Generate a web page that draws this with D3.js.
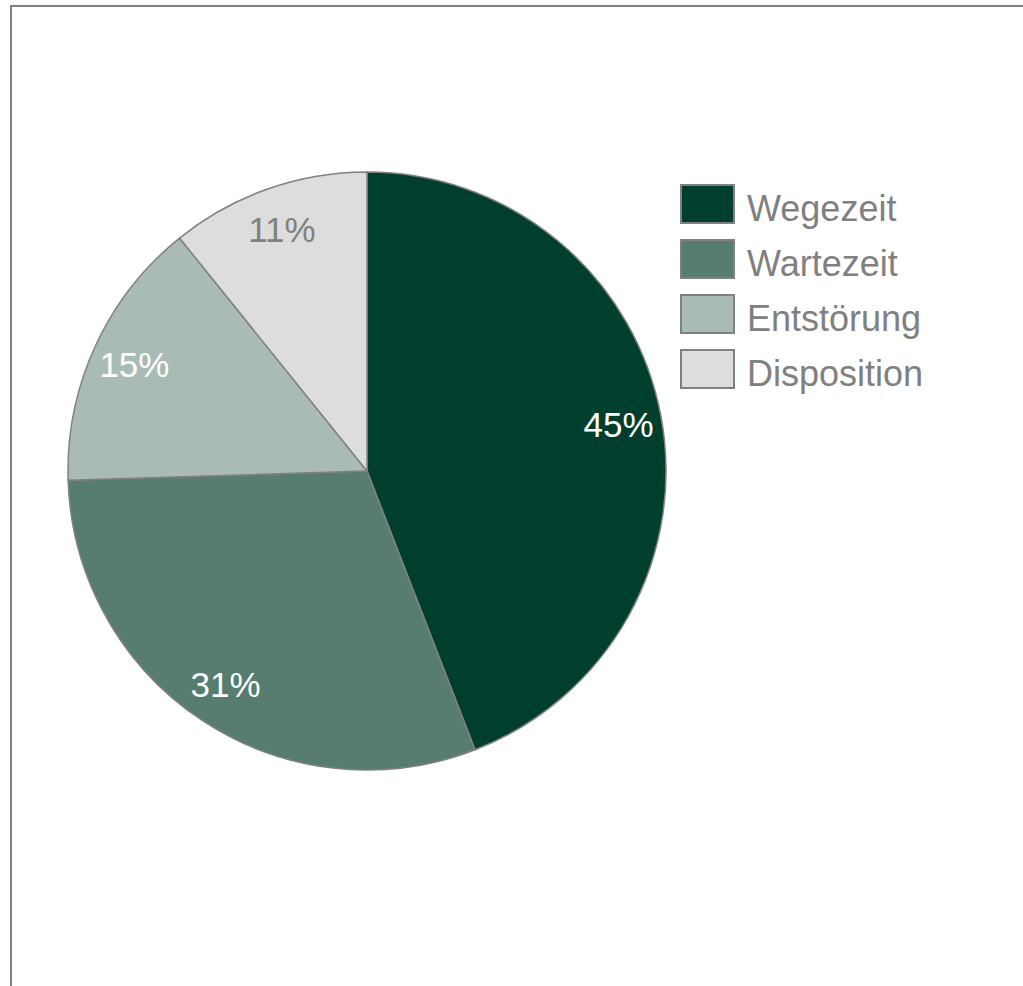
<!DOCTYPE html>
<meta charset="utf-8">
<script src="https://d3js.org/d3.v7.min.js"></script>
<style>
  body { margin: 0; background: #fff; }
</style>
<div id="chart"></div>
<script>

// data
var categories = ["Wegezeit", "Wartezeit", "Entstörung", "Disposition"];
var values = [45, 31, 15, 11];
var colors = ["#003F2E", "#567D70", "#A8BCB5", "#DDDDDD"];
var labelColors = ["#ffffff", "#ffffff", "#ffffff", "#808080"];

var width = 1023, height = 986;
var cx = 367, cy = 471, radius = 299;

var svg = d3.select("#chart").append("svg")
    .attr("width", width)
    .attr("height", height);

// frame
svg.append("rect")
    .attr("x", 11).attr("y", 6)
    .attr("width", 1040).attr("height", 1000)
    .attr("fill", "none")
    .attr("stroke", "#808080")
    .attr("stroke-width", 2);

var data = categories.map(function(c, i) { return {name: c, value: values[i], i: i}; });

var pie = d3.pie().sort(null).value(function(d) { return d.value; });
var arc = d3.arc().innerRadius(0).outerRadius(radius);
var labelArc = d3.arc().innerRadius(256).outerRadius(256);

var g = svg.append("g").attr("transform", "translate(" + cx + "," + cy + ")");

var arcs = pie(data);

g.selectAll("path")
  .data(arcs)
  .enter().append("path")
    .attr("d", arc)
    .attr("fill", function(d) { return colors[d.data.i]; })
    .attr("stroke", "#808080")
    .attr("stroke-width", 1.5);

g.selectAll("text")
  .data(arcs)
  .enter().append("text")
    .attr("transform", function(d) { return "translate(" + labelArc.centroid(d) + ")"; })
    .attr("text-anchor", "middle")
    .attr("dy", "0.36em")
    .style("font", "35px 'Liberation Sans', Arial, sans-serif")
    .attr("fill", function(d) { return labelColors[d.data.i]; })
    .text(function(d) { return d.data.value + "%"; });

// legend
var legend = svg.append("g").attr("transform", "translate(681,185)");
var item = legend.selectAll("g")
  .data(data)
  .enter().append("g")
    .attr("transform", function(d, i) { return "translate(0," + (i * 55) + ")"; });

item.append("rect")
    .attr("width", 53).attr("height", 38)
    .attr("fill", function(d) { return colors[d.i]; })
    .attr("stroke", "#808080")
    .attr("stroke-width", 2);

item.append("text")
    .attr("x", 66).attr("y", 36)
    .style("font", "36px 'Liberation Sans', Arial, sans-serif")
    .attr("fill", "#808080")
    .text(function(d) { return d.name; });

</script>
